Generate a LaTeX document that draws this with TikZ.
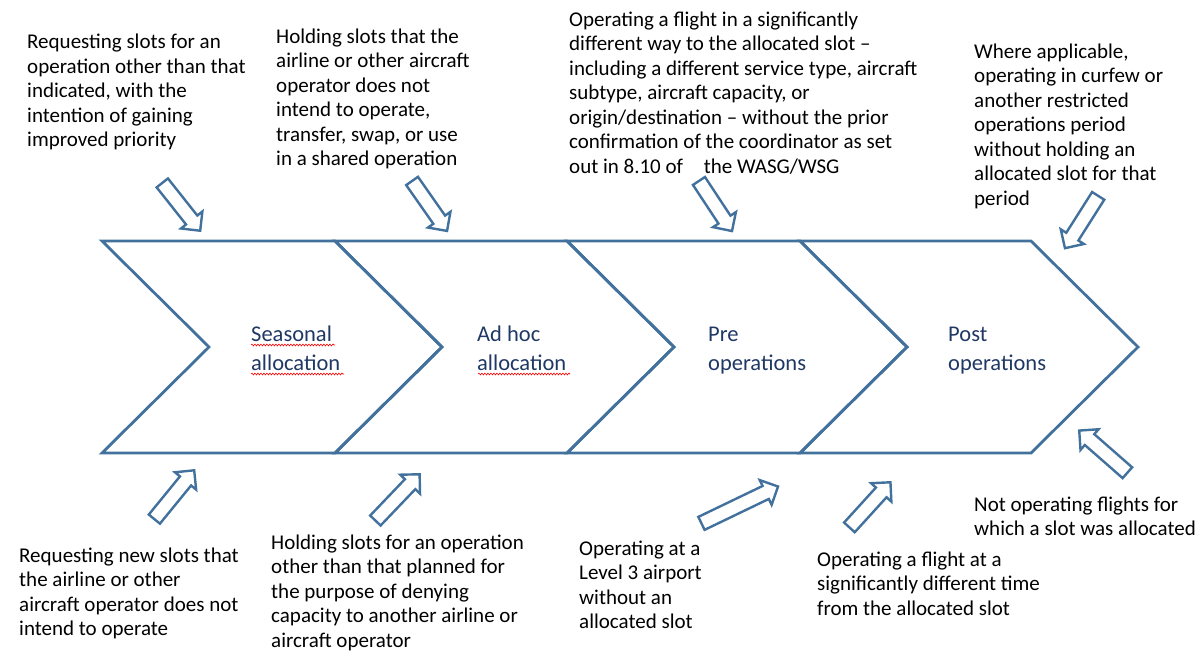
\documentclass[tikz,border=0pt]{standalone}
\usepackage{fontspec}
\setmainfont{Carlito}
\usetikzlibrary{shapes.arrows,decorations.pathmorphing}
\definecolor{lineblue}{HTML}{41719C}
\definecolor{labelblue}{HTML}{1F3864}
\tikzset{
  chev/.style={draw=lineblue, line width=2.8pt, line join=miter},
  blockarr/.style={single arrow, draw=lineblue, line width=2.4pt, fill=white, inner sep=0pt, minimum width=25pt, single arrow head extend=6.5pt, text height=12pt, text depth=0pt, anchor=center},
  desc/.style={anchor=base west, align=left, inner sep=0pt, font=\fontsize{21}{24.5}\selectfont, text=black},
  stage/.style={anchor=base west, align=left, inner sep=0pt, font=\fontsize{22.5}{28.5}\selectfont, text=labelblue},
  spell/.style={draw=red, line width=0.6pt, decorate, decoration={snake, amplitude=0.9pt, segment length=3pt}}
}
\begin{document}
\begin{tikzpicture}[x=1pt,y=-1pt]
\useasboundingbox (0,0) rectangle (1198,650);
% chevrons
\draw[chev] (102,241) -- (335,241) -- (442,347) -- (335,453) -- (102,453) -- (209,347) -- cycle;
\draw[chev] (335,241) -- (567,241) -- (674,347) -- (567,453) -- (335,453) -- (442,347) -- cycle;
\draw[chev] (567,241) -- (800,241) -- (907,347) -- (800,453) -- (567,453) -- (674,347) -- cycle;
\draw[chev] (800,241) -- (1031,241) -- (1138,347) -- (1031,453) -- (800,453) -- (907,347) -- cycle;
% stage labels (anchored at the baseline of the last line)
\node[stage] (s1) at (251,370) {Seasonal\\allocation};
\node[stage] (s2) at (477,370) {Ad hoc\\allocation};
\node[stage] (s3) at (708,370) {Pre\\operations};
\node[stage] (s4) at (948,370) {Post\\operations};
\draw[spell] (251,345) -- (335,345);
\draw[spell] (251,374) -- (344,374);
\draw[spell] (478,374) -- (570,374);
% top descriptions
\node[desc] (t1) at (27,146.5) {Requesting slots for an\\operation other than that\\indicated, with the\\intention of gaining\\improved priority};
\node[desc] (t2) at (276,165.5) {Holding slots that the\\airline or other aircraft\\operator does not\\intend to operate,\\transfer, swap, or use\\in a shared operation};
\node[desc] (t3) at (569,173) {Operating a flight in a significantly\\different way to the allocated slot --\\including a different service type, aircraft\\subtype, aircraft capacity, or\\origin/destination -- without the prior\\confirmation of the coordinator as set\\out in 8.10 of \hspace{16pt}the WASG/WSG};
\node[desc] (t4) at (974,205) {Where applicable,\\operating in curfew or\\another restricted\\operations period\\without holding an\\allocated slot for that\\period};
% bottom descriptions
\node[desc] (b1) at (19,635.5) {Requesting new slots that\\the airline or other\\aircraft operator does not\\intend to operate};
\node[desc] (b2) at (271,647) {Holding slots for an operation\\other than that planned for\\the purpose of denying\\capacity to another airline or\\aircraft operator};
\node[desc] (b3) at (579,628.5) {Operating at a\\Level 3 airport\\without an\\allocated slot};
\node[desc] (b4) at (817,615) {Operating a flight at a\\significantly different time\\from the allocated slot};
\node[desc] (b5) at (974,535.5) {Not operating flights for\\which a slot was allocated};
% block arrows
\node[blockarr, minimum height=61pt, rotate=-51.6] (a1) at (179,204) {};
\node[blockarr, minimum height=61pt, rotate=-55] (a2) at (427.5,203) {};
\node[blockarr, minimum height=60pt, rotate=-56.6] (a3) at (713.5,203) {};
\node[blockarr, minimum height=62pt, rotate=-122.4] (a4) at (1083.5,219) {};
\node[blockarr, minimum height=63pt, rotate=50.8] (a5) at (172,497.5) {};
\node[blockarr, minimum height=64pt, rotate=46.3] (a6) at (395,500) {};
\node[blockarr, minimum height=85pt, rotate=25.7] (a7) at (736.5,506.5) {};
\node[blockarr, minimum height=61pt, rotate=47.7] (a8) at (867.5,507.5) {};
\node[blockarr, minimum height=64pt, rotate=138.8] (a9) at (1106,454) {};
\end{tikzpicture}
\end{document}
